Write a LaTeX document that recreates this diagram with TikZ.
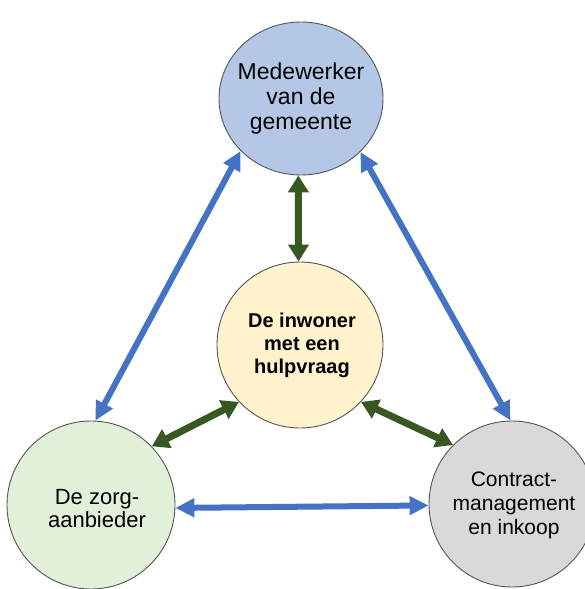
\documentclass[tikz,border=0pt]{standalone}
\usepackage{fontspec}
\setmainfont{Liberation Sans}
\usetikzlibrary{arrows.meta,shapes.geometric}
\definecolor{arrblue}{HTML}{4472C4}
\definecolor{arrgreen}{HTML}{385723}
\definecolor{fillblue}{HTML}{B4C7E7}
\definecolor{fillyellow}{HTML}{FFF2CC}
\definecolor{fillgreen}{HTML}{E2F0D9}
\definecolor{fillgrey}{HTML}{D9D9D9}
\definecolor{edgecol}{HTML}{555555}
\begin{document}
\begin{tikzpicture}[x=1pt,y=-1pt,
  bubble/.style={draw=edgecol,line width=0.9pt,inner sep=0pt},
  txt/.style={align=center,inner sep=0pt,text=black},
  bluearrow/.style={draw=arrblue,line width=6pt,{Triangle[width=18pt,length=19pt]}-{Triangle[width=18pt,length=19pt]}},
  greenarrow/.style={draw=arrgreen,line width=7pt,{Triangle[width=20pt,length=17pt]}-{Triangle[width=20pt,length=17pt]}}]
\useasboundingbox (0,0) rectangle (585,589);
\fill[white] (0,0) rectangle (585,589);
% circles
\node[bubble,ellipse,fill=fillblue,minimum width=164pt,minimum height=153pt] (top) at (301,98.5) {};
\node[bubble,circle,fill=fillyellow,minimum size=166pt] (mid) at (300,345) {};
\node[bubble,circle,fill=fillgreen,minimum size=168pt] (bl) at (91,505) {};
\node[bubble,circle,fill=fillgrey,minimum size=166pt] (br) at (512,504) {};
% texts
\node[txt,font=\fontsize{23}{25}\selectfont] (topT) at (301,99) {Medewerker\\van de\\gemeente};
\node[txt,font=\fontsize{20}{23}\selectfont\bfseries] (midT) at (302,345) {De inwoner\\met een\\hulpvraag};
\node[txt,font=\fontsize{22}{23}\selectfont] (blT) at (97,509) {De zorg-\\aanbieder};
\node[txt,font=\fontsize{21}{24}\selectfont] (brT) at (514,505) {Contract-\\management\\en inkoop};
% arrows
\draw[bluearrow] (top.221) -- (bl.87);
\draw[bluearrow] (top.318) -- (br.91);
\draw[bluearrow] (bl.-2) -- (br.181);
\draw[greenarrow] (top.268) -- (mid.91);
\draw[greenarrow] (mid.223) -- (bl.44);
\draw[greenarrow] (mid.317) -- (br.135);
\end{tikzpicture}
\end{document}
